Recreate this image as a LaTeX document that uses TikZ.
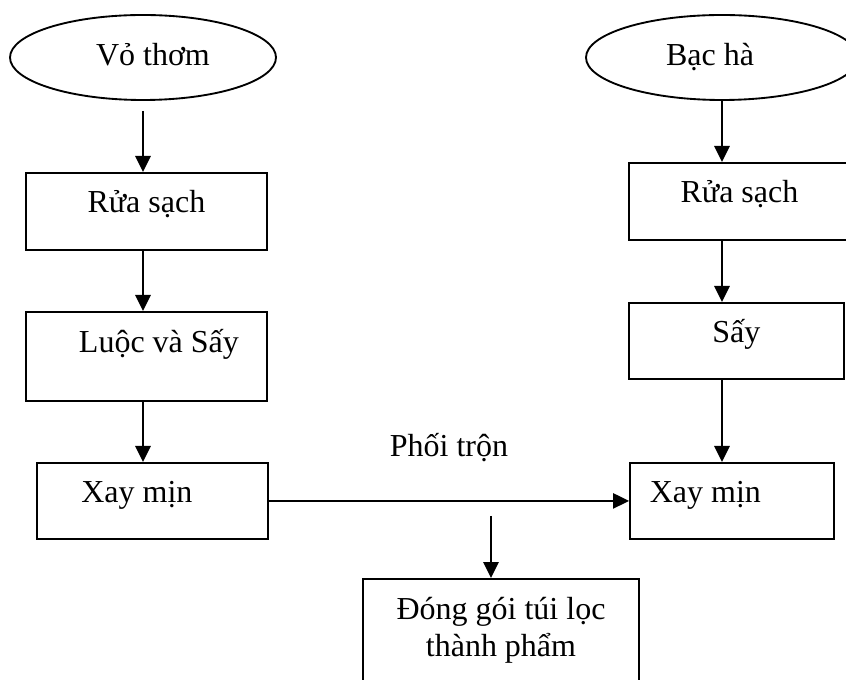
\documentclass[tikz,border=0pt]{standalone}
\usepackage{fontspec}
\setmainfont{Liberation Serif}
\usetikzlibrary{shapes.geometric,arrows.meta}

\begin{document}
\begin{tikzpicture}[x=0.75pt,y=0.75pt,yscale=-1,xscale=1,
	every node/.style={font=\fontsize{24}{27.75}\selectfont},
	startnode/.style={draw, ellipse, line width=1.4pt, minimum height=63.75pt, text height=12.75pt, text depth=0pt},
	stepbox/.style={draw, rectangle, line width=1.4pt, inner sep=0pt, anchor=north west, text height=30pt, text depth=27pt},
	flow/.style={-{Triangle[length=12pt,width=11.5pt]}, line width=1.4pt}]
		\useasboundingbox (0,0) rectangle (846,680);
		% start ellipses
		\draw (143,57.5) node [startnode, minimum width=199.5pt] (vo) {\hspace*{15pt}Vỏ thơm};
		\draw (722,57.5) node [startnode, minimum width=204pt] (bacha) {Bạc hà\hspace*{18pt}};
		% left column
		\draw (25,172) node [stepbox, minimum width=180.75pt, text depth=27.75pt] (rua1) {Rửa sạch};
		\draw (25,311) node [stepbox, minimum width=180.75pt, text height=30.75pt, text depth=36pt] (luoc) {\hspace*{18.75pt}Luộc và Sấy};
		\draw (36,462) node [stepbox, minimum width=173.25pt] (xay1) {Xay mịn\hspace*{23.25pt}};
		% right column
		\draw (628,162) node [stepbox, minimum width=165.75pt, text depth=27.75pt] (rua2) {Rửa sạch};
		\draw (628,302) node [stepbox, minimum width=161.25pt] (say) {Sấy};
		\draw (629,462) node [stepbox, minimum width=153pt] (xay2) {Xay mịn\hspace*{39.75pt}};
		% mixing and packing
		\draw (449,448) node [inner sep=0pt] (phoitron) {Phối trộn};
		\draw (501,578) node [stepbox, anchor=north, align=center, minimum width=207pt, minimum height=76.5pt, text height={}, text depth={}] (dong) {Đóng gói túi lọc\\thành phẩm};
		\coordinate (drop) at (491,516);
		% arrows
		\draw [flow, shorten <=7.5pt] (vo.south) -- (vo.south |- rua1.north);
		\draw [flow] (vo.south |- rua1.south) -- (vo.south |- luoc.north);
		\draw [flow] (vo.south |- luoc.south) -- (vo.south |- xay1.north);
		\draw [flow] (bacha.south) -- (bacha.south |- rua2.north);
		\draw [flow] (bacha.south |- rua2.south) -- (bacha.south |- say.north);
		\draw [flow] (bacha.south |- say.south) -- (bacha.south |- xay2.north);
		\draw [flow] (xay1.east) -- (xay2.west);
		\draw [flow] (drop) -- (drop |- dong.north);
\end{tikzpicture}
\end{document}
